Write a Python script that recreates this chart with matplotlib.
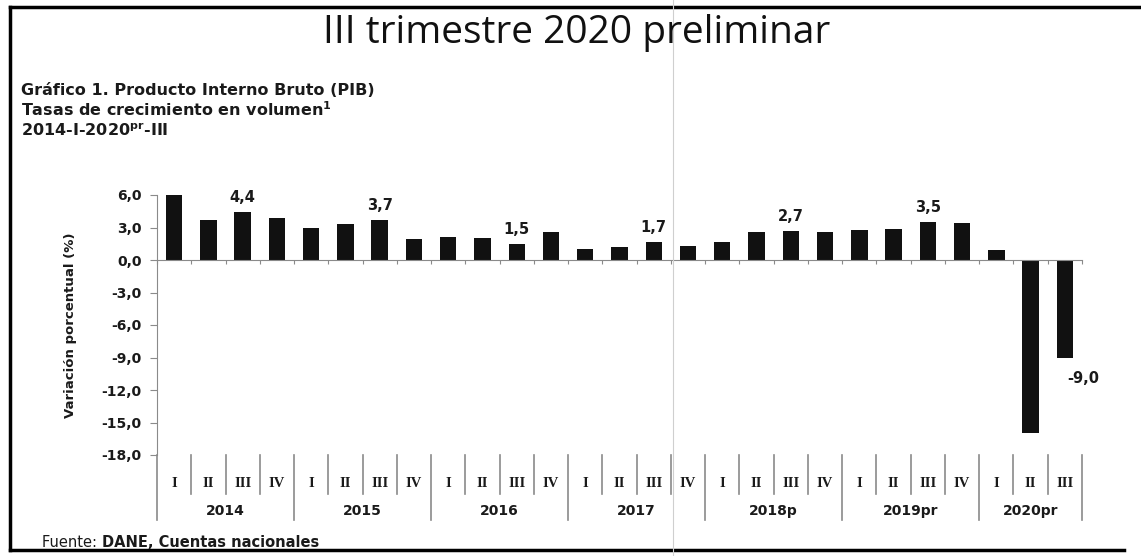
import matplotlib
matplotlib.use('Agg')
import matplotlib.pyplot as plt
import matplotlib.transforms as mtransforms
from matplotlib.lines import Line2D

# PIB Colombia, tasas de crecimiento anual (%), 2014-I a 2020-III
quarters = ['I', 'II', 'III', 'IV'] * 6 + ['I', 'II', 'III']
years = ['2014', '2015', '2016', '2017', '2018p', '2019pr', '2020pr']
year_sizes = [4, 4, 4, 4, 4, 4, 3]
growth = [6.0, 3.7, 4.4, 3.9, 3.0, 3.3, 3.7, 1.9, 2.1, 2.0, 1.5, 2.6,
          1.0, 1.2, 1.7, 1.3, 1.7, 2.6, 2.7, 2.6, 2.8, 2.9, 3.5, 3.4,
          0.9, -16.0, -9.0]
yticks = [6, 3, 0, -3, -6, -9, -12, -15, -18]

sans = ['Open Sans', 'DejaVu Sans']
bold = ['DejaVu Sans']
serif = ['Liberation Serif', 'DejaVu Serif']
grey = '#8a8a8a'
ink = '#1a1a1a'

fig = plt.figure(figsize=(11.41, 5.56), dpi=100)
ax = fig.add_axes([157 / 1141, 1 - 455 / 556, (1082 - 157) / 1141, 260 / 556])

x = list(range(len(growth)))
ax.bar(x, growth, width=0.48, color='#111111')

ax.set_xlim(-0.5, len(growth) - 0.5)
ax.set_ylim(-18, 6)
ax.set_yticks(yticks)
ax.set_yticklabels([f'{v:.1f}'.replace('.', ',') for v in yticks],
                   fontsize=10, family=bold, color=ink, fontweight='bold')

for s in ['top', 'right']:
    ax.spines[s].set_visible(False)
ax.spines['left'].set_color(grey)
ax.spines['bottom'].set_color(grey)
ax.spines['bottom'].set_position(('data', 0))
ax.tick_params(axis='y', length=5, color=grey, pad=6)
ax.set_xticks([i - 0.5 for i in range(len(growth) + 1)])
ax.set_xticklabels([])
ax.tick_params(axis='x', length=3, color=grey, direction='out')

ax.set_ylabel('Variación porcentual (%)', fontsize=9.5, fontweight='bold',
              family=bold, labelpad=18, color=ink)

# etiquetas de valor en los III trimestres
for i, (q, v) in enumerate(zip(quarters, growth)):
    if q != 'III':
        continue
    txt = f'{v:.1f}'.replace('.', ',')
    if v >= 0:
        ax.annotate(txt, (i, v), xytext=(0, 5), textcoords='offset points',
                    ha='center', va='bottom', fontsize=10.5, family=bold,
                    fontweight='bold', color=ink)
    else:
        ax.annotate(txt, (i, v), xytext=(13, -10), textcoords='offset points',
                    ha='center', va='top', fontsize=10.5, family=bold,
                    fontweight='bold', color=ink)

# eje de categorías de dos niveles
trans = mtransforms.blended_transform_factory(ax.transData, ax.transAxes)
for i, q in enumerate(quarters):
    ax.text(i, -0.108, q, transform=trans, ha='center', va='center',
            fontsize=10.5, family=serif, fontweight='bold', color=ink)

start = 0
year_edges = [0]
for y, n in zip(years, year_sizes):
    ax.text(start + (n - 1) / 2, -0.215, y, transform=trans, ha='center',
            va='center', fontsize=10, family=bold, fontweight='bold',
            color=ink)
    start += n
    year_edges.append(start)

for i in range(len(growth) + 1):
    bottom = -0.25 if i in year_edges else -0.15
    ax.plot([i - 0.5, i - 0.5], [0, bottom], transform=trans, color=grey,
            lw=1.2, clip_on=False)

# textos
fig.text(0.505, 0.94, 'III trimestre 2020 preliminar', ha='center',
         va='center', fontsize=28, family=sans, color='#111111')
fig.text(0.018, 0.838, 'Gráfico 1. Producto Interno Bruto (PIB)',
         fontsize=11.5, fontweight='bold', family=bold, va='center', color=ink)
fig.text(0.018, 0.802, r'Tasas de crecimiento en volumen$^{\mathbf{1}}$',
         fontsize=11.5, fontweight='bold', family=bold, va='center', color=ink)
fig.text(0.018, 0.766, r'2014-I-2020$^{\mathbf{pr}}$-III',
         fontsize=11.5, fontweight='bold', family=bold, va='center', color=ink)

t = fig.text(0.037, 0.025, 'Fuente: ', fontsize=10.5, family=bold, va='center',
             color=ink)
fig.canvas.draw()
bb = t.get_window_extent().transformed(fig.transFigure.inverted())
fig.text(bb.x1, 0.025, 'DANE, Cuentas nacionales', fontsize=10.5,
         fontweight='bold', family=bold, va='center', color=ink)

# marco
fig.add_artist(Line2D([0.009, 0.009], [0.01, 0.988], color='black', lw=2.5,
                      transform=fig.transFigure))
fig.add_artist(Line2D([0.009, 1.0], [0.988, 0.988], color='black', lw=2.5,
                      transform=fig.transFigure))
fig.add_artist(Line2D([0.009, 0.985], [0.01, 0.01], color='black', lw=2.5,
                      transform=fig.transFigure))
fig.add_artist(Line2D([0.59, 0.59], [0.0, 1.0], color='#cfcfcf', lw=0.8,
                      transform=fig.transFigure))

fig.savefig('out.png', dpi=100)
